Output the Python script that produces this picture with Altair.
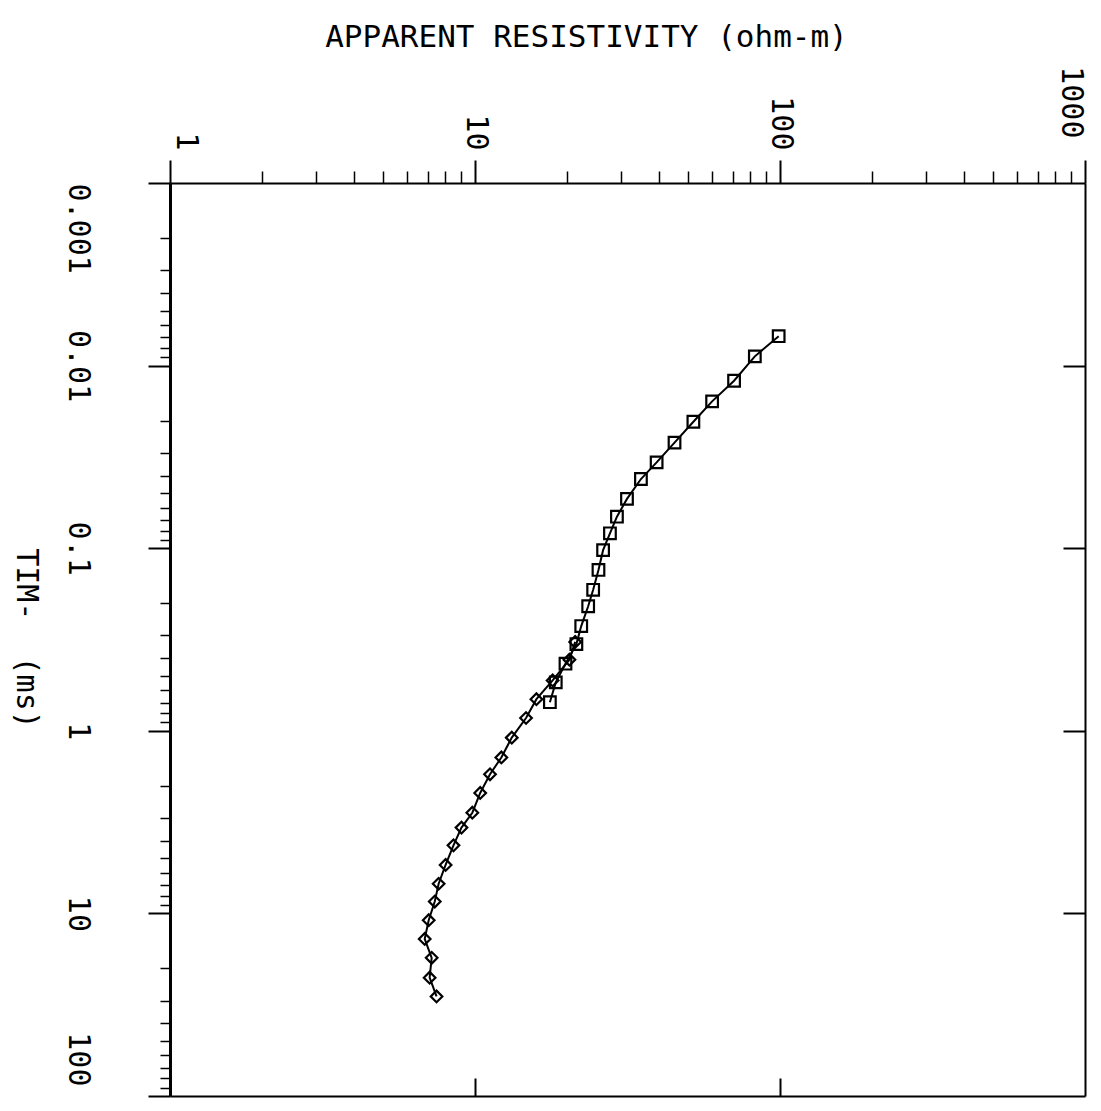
import altair as alt
import pandas as pd

# ---- data ----
sq_time = [0.0069, 0.0089, 0.0121, 0.0157, 0.0203, 0.0264, 0.0339, 0.0418, 0.0537, 0.0672,
           0.0829, 0.1025, 0.1315, 0.169, 0.208, 0.267, 0.335, 0.429, 0.543, 0.697]
sq_rho = [99.0, 82.7, 70.7, 59.9, 52.0, 45.1, 39.4, 35.0, 31.5, 29.2,
          27.7, 26.3, 25.4, 24.4, 23.5, 22.3, 21.5, 19.8, 18.4, 17.6]
di_time = [0.326, 0.408, 0.530, 0.671, 0.851, 1.09, 1.40, 1.73, 2.19, 2.81,
           3.39, 4.24, 5.43, 6.88, 8.61, 10.9, 13.8, 17.5, 22.5, 28.5]
di_rho = [21.3, 20.4, 17.97, 15.9, 14.7, 13.2, 12.2, 11.2, 10.4, 9.80,
          9.03, 8.50, 8.01, 7.60, 7.38, 7.05, 6.84, 7.21, 7.10, 7.48]

rho_major = [1, 10, 100, 1000]
rho_minor = [m * d for d in [1, 10, 100] for m in range(2, 10)]
rho_inner = [10, 100]
time_major = [0.001, 0.01, 0.1, 1, 10, 100]
time_minor = [m * d for d in [0.001, 0.01, 0.1, 1, 10] for m in range(2, 10)]
time_inner = [0.01, 0.1, 1, 10]

x_title = "APPARENT RESISTIVITY (ohm-m)"
y_title = "TIM-\u00a0\u00a0(ms)"

rows = []
for i, (t, r) in enumerate(zip(sq_time, sq_rho)):
    rows.append({"series": "square", "t": t, "rho": r, "i": i})
for i, (t, r) in enumerate(zip(di_time, di_rho)):
    rows.append({"series": "diamond", "t": t, "rho": r, "i": i})
df = pd.DataFrame(rows)

FONT = "DejaVu Sans Mono"
FS = 30
W = 915
H = 913

xs = alt.Scale(type="log", domain=[1, 1000], nice=False)
ys = alt.Scale(type="log", domain=[0.001, 100], nice=False, reverse=True)

main_x_axis = alt.Axis(
    orient="top", values=rho_major, format="~g", grid=False,
    tickSize=23, tickWidth=2, tickColor="black",
    domainColor="black", domainWidth=2,
    labelAngle=90, labelAlign="right",
    labelBaseline={"condition": [{"test": "datum.value < 2", "value": "bottom"},
                                 {"test": "datum.value > 500", "value": "top"}],
                   "value": "middle"},
    labelPadding={"condition": {"test": "datum.value > 500", "value": 22}, "value": 10},
    labelFont=FONT, labelFontSize=FS, labelColor="black",
    labelOverlap=False, labelBound=False, labelFlush=False,
    title=x_title, titleAngle=0, titleX=416, titleY=-137,
    titleAlign="center", titleBaseline="alphabetic",
    titleFont=FONT, titleFontSize=31, titleFontWeight="normal", titleColor="black",
)
main_y_axis = alt.Axis(
    orient="left", values=time_major, format="~g", grid=False,
    tickSize=22, tickWidth=2, tickColor="black",
    domainColor="black", domainWidth=3,
    labelAngle=90, labelBaseline="top",
    labelAlign={"condition": [{"test": "datum.value < 0.002", "value": "left"},
                              {"test": "datum.value > 50", "value": "right"}],
                "value": "center"},
    labelOffset={"condition": {"test": "datum.value > 50", "value": -10}, "value": 0},
    labelPadding=56, labelFont=FONT, labelFontSize=FS, labelColor="black",
    labelOverlap=False, labelBound=False, labelFlush=False,
    title=y_title, titleAngle=90, titleX=-130, titleY=455,
    titleAlign="center", titleBaseline="top",
    titleFont=FONT, titleFontSize=FS, titleFontWeight="normal", titleColor="black",
)
minor_x_axis = alt.Axis(orient="top", values=rho_minor, grid=False, labels=False, domain=False,
                        tickSize=12, tickWidth=1.5, tickColor="black", title=None)
minor_y_axis = alt.Axis(orient="left", values=time_minor, grid=False, labels=False, domain=False,
                        tickSize=10, tickWidth=1.5, tickColor="black", title=None)
inner_x_axis = alt.Axis(orient="bottom", values=rho_inner, grid=False, labels=False, domain=False,
                        tickSize=18, tickWidth=2, tickColor="black", offset=-18, title=None)
inner_y_axis = alt.Axis(orient="right", values=time_inner, grid=False, labels=False, domain=False,
                        tickSize=22, tickWidth=2, tickColor="black", offset=-22, title=None)
frame_x_axis = alt.Axis(orient="bottom", grid=False, labels=False, ticks=False, domain=True,
                        domainColor="black", domainWidth=2, title=None)
frame_y_axis = alt.Axis(orient="right", grid=False, labels=False, ticks=False, domain=True,
                        domainColor="black", domainWidth=2, title=None)

base = alt.Chart(df)

lines = base.mark_line(color="black", strokeWidth=2).encode(
    x=alt.X("rho:Q", scale=xs, axis=main_x_axis),
    y=alt.Y("t:Q", scale=ys, axis=main_y_axis),
    detail="series:N",
    order="i:Q",
)
squares = base.transform_filter("datum.series == 'square'").mark_point(
    shape="square", filled=False, color="black", strokeWidth=2.2, size=135, opacity=1
).encode(
    x=alt.X("rho:Q", scale=xs, axis=None),
    y=alt.Y("t:Q", scale=ys, axis=None),
)
diamonds = base.transform_filter("datum.series == 'diamond'").mark_point(
    shape="diamond", filled=False, color="black", strokeWidth=2.2, size=135, opacity=1
).encode(
    x=alt.X("rho:Q", scale=xs, axis=None),
    y=alt.Y("t:Q", scale=ys, axis=None),
)
minor = base.mark_point(opacity=0).encode(
    x=alt.X("rho:Q", scale=xs, axis=minor_x_axis),
    y=alt.Y("t:Q", scale=ys, axis=minor_y_axis),
)
inner = base.mark_point(opacity=0).encode(
    x=alt.X("rho:Q", scale=xs, axis=inner_x_axis),
    y=alt.Y("t:Q", scale=ys, axis=inner_y_axis),
)
frame = base.mark_point(opacity=0).encode(
    x=alt.X("rho:Q", scale=xs, axis=frame_x_axis),
    y=alt.Y("t:Q", scale=ys, axis=frame_y_axis),
)

chart = alt.layer(lines, squares, diamonds, minor, inner, frame).resolve_axis(
    x="independent", y="independent"
).properties(
    width=W, height=H,
    autosize=alt.AutoSizeParams(type="none"),
    padding={"left": 162, "top": 175, "right": 3, "bottom": 2},
).configure_view(
    stroke=None
).configure(background="white")

chart.save("out.html", embed_options={"renderer": "svg", "actions": False})
